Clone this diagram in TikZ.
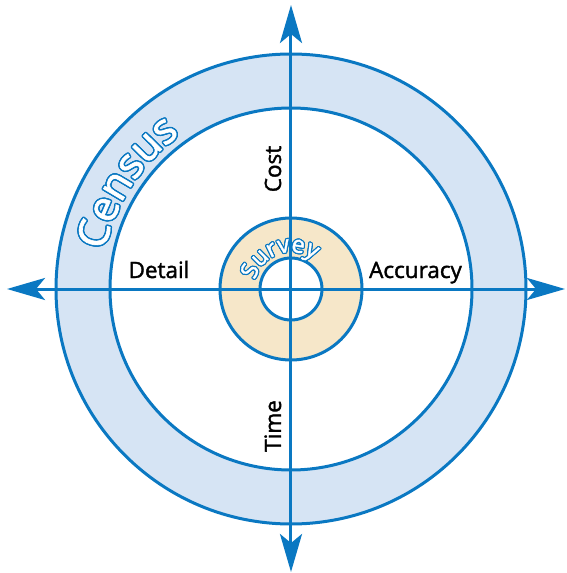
\documentclass[tikz,border=0pt]{standalone}
\usepackage{fontspec}
\setmainfont{Open Sans}[FakeBold=1.6]
\usetikzlibrary{arrows.meta,decorations.text}

\newcommand{\labelFont}{\fontsize{22.5}{26}\selectfont}
\newcommand{\censusFont}{\fontsize{42}{46}\selectfont}
\newcommand{\surveyFont}{\fontsize{23.5}{26}\selectfont}

\begin{document}
\begin{tikzpicture}[x=1pt, y=1pt]
    \def\outerR{235}
    \def\censusR{181}
    \def\surveyR{71}
    \def\holeR{31}

    \definecolor{lineColour}{HTML}{0A78C2}
    \definecolor{censusColour}{HTML}{D6E4F4}
    \definecolor{surveyColour}{HTML}{F6E7C9}

    \tikzset{
        ring/.style={draw=lineColour, line width=3pt},
        axis/.style={draw=lineColour, line width=3pt,
            {Stealth[length=38pt, width=22pt, inset=9pt]}-{Stealth[length=38pt, width=22pt, inset=9pt]}},
        axislabel/.style={font=\labelFont, text=black, inner sep=0pt, anchor=base}
    }

    \useasboundingbox (-291,-284) rectangle (275,289);
    \coordinate (O) at (0,0);

    % Draw census ring
    \filldraw[ring, fill=censusColour] (O) circle (\outerR);
    \filldraw[ring, fill=white] (O) circle (\censusR);

    % Draw survey ring
    \filldraw[ring, fill=surveyColour] (O) circle (\surveyR);
    \filldraw[ring, fill=white] (O) circle (\holeR);

    % Draw axes
    \coordinate (W) at (-284,0);
    \coordinate (E) at (274,0);
    \coordinate (N) at (0,284);
    \coordinate (S) at (0,-283);
    \draw[axis] (W) -- (E);
    \draw[axis] (S) -- (N);

    % Label axes
    \node[axislabel, rotate=90] (cost) at (-10,120) {Cost};
    \node[axislabel, rotate=90] (time) at (-10,-137) {Time};
    \node[axislabel] (detail) at (-132,11) {Detail};
    \node[axislabel] (accuracy) at (124.5,11) {Accuracy};

    % Outlined ring titles
    \foreach \a in {0,30,...,330} {
        \path[shift={(\a:1.5)}, decorate, decoration={text along path, text align=center,
            text color=lineColour, text={|\censusFont|Census}}]
            (192:190) arc[start angle=192, end angle=102, radius=190];
        \path[shift={(\a:1.2)}, decorate, decoration={text along path, text align=center,
            text color=lineColour, text={|\surveyFont|Survey}}]
            (200:37) arc[start angle=200, end angle=18, radius=37];
    }
    \path[decorate, decoration={text along path, text align=center,
        text color=white, text={|\censusFont|Census}}]
        (192:190) arc[start angle=192, end angle=102, radius=190];
    \path[decorate, decoration={text along path, text align=center,
        text color=white, text={|\surveyFont|Survey}}]
        (200:37) arc[start angle=200, end angle=18, radius=37];

\end{tikzpicture}
\end{document}
